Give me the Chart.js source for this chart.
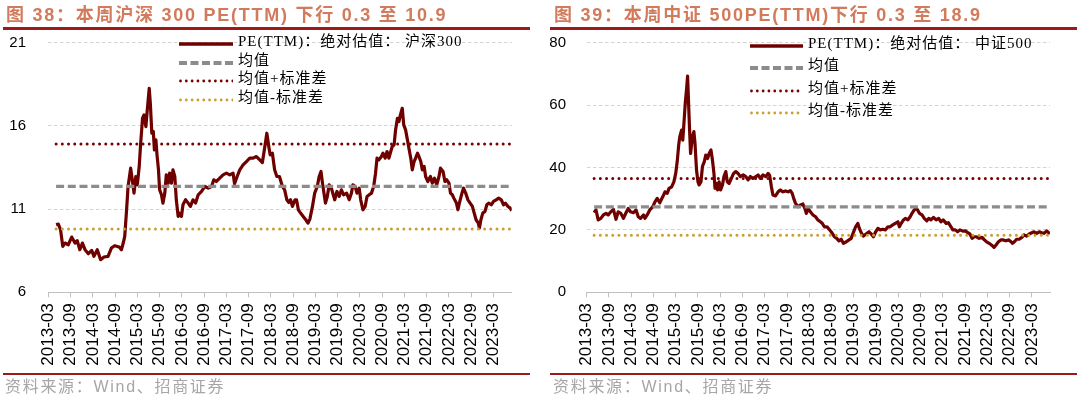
<!DOCTYPE html>
<html><head><meta charset="utf-8">
<script src="https://cdn.jsdelivr.net/npm/chart.js@4.4.0/dist/chart.umd.min.js"></script>
<style>
html,body{margin:0;padding:0;background:#fff;}
#wrap{position:relative;width:1080px;height:399px;overflow:hidden;background:#fff;}
.cv{position:absolute;top:0;}
.title{position:absolute;top:5px;font-weight:bold;font-size:18px;line-height:20px;letter-spacing:1.75px;font-family:"Liberation Sans","Noto Sans CJK SC",sans-serif;color:#D27B5C;white-space:nowrap;z-index:3;}
.rule{position:absolute;background:#9C1A1A;z-index:3;}
.src{position:absolute;top:377px;font-size:16px;line-height:20px;letter-spacing:1.7px;font-family:"Liberation Sans","Noto Sans CJK SC",sans-serif;color:#A6A6A6;white-space:nowrap;z-index:3;}
.lg{position:absolute;font-size:15px;line-height:18px;letter-spacing:1px;font-family:"Liberation Serif","Noto Sans CJK SC",serif;color:#000;white-space:nowrap;z-index:3;}
.lgs{position:absolute;z-index:3;}
</style></head>
<body>
<div id="wrap">
  <canvas id="c1" class="cv" width="540" height="399" style="left:0;width:540px;height:399px"></canvas>
  <canvas id="c2" class="cv" width="540" height="399" style="left:540px;width:540px;height:399px"></canvas>
  <div class="title" style="left:6px">图 38：本周沪深 300 PE(TTM) 下行 0.3 至 10.9</div>
  <div class="title" style="left:554px">图 39：本周中证 500PE(TTM)下行 0.3 至 18.9</div>
  <div class="rule" style="left:3px;width:527px;top:27px;height:3px"></div>
  <div class="rule" style="left:550px;width:527px;top:27px;height:3px"></div>
  <div class="rule" style="left:3px;width:527px;top:373px;height:2px"></div>
  <div class="rule" style="left:550px;width:527px;top:373px;height:2px"></div>
  <div class="src" style="left:5px">资料来源：Wind、招商证券</div>
  <div class="src" style="left:553px">资料来源：Wind、招商证券</div>
  <div id="legends"></div>
</div>
<script>
// ---- Data (x = months since 2013-03) ----
const tickLabels = ["2013-03","2013-09","2014-03","2014-09","2015-03","2015-09","2016-03","2016-09","2017-03","2017-09","2018-03","2018-09","2019-03","2019-09","2020-03","2020-09","2021-03","2021-09","2022-03","2022-09","2023-03"];
const tickMonths = [0,6,12,18,24,30,36,42,48,54,60,66,72,78,84,90,96,102,108,114,120];

const hs300Months = [2.1,2.7,3.3,3.9,4.5,5.4,6.3,7.2,7.8,8.5,9.2,9.9,10.8,11.7,12.3,13.2,14.1,15.0,16.1,17.0,17.9,19.1,19.7,20.2,20.6,21.1,21.5,22.2,22.7,23.1,23.6,24.0,24.5,24.9,25.4,25.8,26.3,26.6,27.2,27.5,27.9,28.3,28.6,29.0,29.3,29.7,30.0,30.5,30.9,31.4,31.8,32.3,32.7,33.2,33.6,34.1,34.5,35.0,35.4,35.9,36.3,37.0,37.7,38.3,39.0,39.7,40.4,41.3,42.2,43.1,44.0,44.6,45.3,46.2,47.1,48.0,48.9,49.8,50.2,50.9,51.6,52.5,53.4,54.3,55.2,56.1,57.0,57.7,58.3,58.9,59.5,59.8,60.4,61.0,61.6,62.3,63.1,63.7,64.3,64.8,65.3,65.8,66.5,66.9,67.4,68.0,68.7,69.4,70.0,70.5,71.2,71.8,72.5,73.0,73.5,73.9,74.3,74.7,75.2,75.7,76.3,76.8,77.2,77.8,78.4,79.0,79.6,80.4,81.1,81.7,82.1,82.7,83.2,83.8,84.2,84.8,85.4,85.9,86.5,87.1,87.7,88.2,88.6,89.1,89.8,90.2,90.8,91.3,91.8,92.3,92.7,93.2,93.6,94.1,94.5,94.9,95.4,95.8,96.3,96.8,97.2,97.7,98.1,98.6,99.0,99.5,99.9,100.4,100.8,101.3,101.7,102.3,103.0,103.5,104.1,104.7,105.3,105.7,106.4,106.9,107.4,108.0,108.4,108.9,109.3,110.0,110.4,110.8,111.5,111.9,112.5,113.1,113.7,114.3,114.8,115.3,115.9,116.2,116.6,117.1,117.7,118.2,118.7,119.4,120.0,120.7,121.4,122.1,122.7,123.2,123.9,124.5,124.9];
const hs300PE = [10.06,10.1,9.76,8.76,8.96,8.86,9.32,8.96,9.1,8.56,8.96,8.56,8.32,8.52,8.16,8.56,7.96,8.12,8.16,8.66,8.8,8.72,8.56,8.96,9.36,10.96,12.36,13.46,12.66,11.96,12.96,12.46,13.56,14.96,16.46,16.66,15.96,16.76,18.26,17.36,15.56,15.66,14.56,15.16,14.26,13.36,12.16,11.86,11.36,11.96,13.06,12.56,13.16,12.56,13.36,12.96,11.56,10.56,10.76,10.56,11.26,11.56,11.36,11.16,11.56,11.36,11.86,12.06,12.36,12.26,12.36,12.76,12.66,12.86,13.06,13.16,13.06,13.16,12.52,12.96,13.36,13.66,13.86,14.06,14.06,14.16,13.96,13.8,14.66,15.56,14.66,14.26,14.36,13.36,12.96,12.96,12.36,12.16,11.56,11.4,11.56,11.16,11.56,11.56,10.96,10.76,10.56,10.36,10.16,10.4,11.16,11.96,12.36,12.96,13.26,12.56,11.96,11.36,11.76,12.46,12.26,11.86,11.56,12.06,11.76,12.16,11.86,11.96,11.56,11.96,12.46,12.36,11.96,12.26,11.56,10.96,11.16,11.76,11.86,11.96,12.36,13.16,14.06,13.96,14.16,14.36,14.06,14.46,14.06,14.46,14.76,14.86,15.76,16.46,16.26,16.66,17.06,16.06,15.76,15.16,14.66,14.06,13.36,13.86,14.06,14.36,14.16,13.86,13.36,13.56,12.96,12.66,12.96,12.56,12.86,12.46,12.96,13.46,13.26,12.66,12.76,12.56,11.96,11.86,11.66,11.36,10.96,11.36,11.96,12.26,11.96,11.56,11.36,11.16,10.76,10.36,10.16,9.86,10.36,10.76,10.86,11.26,11.36,11.26,11.46,11.56,11.66,11.56,11.26,11.36,11.16,11.06,10.9];
const hs300Mean = 12.36, hs300Plus = 14.91, hs300Minus = 9.81;
const hs300YTicks = [6,11,16,21];

const zz500Months = [2.0,2.5,3.1,3.8,4.5,5.2,5.8,6.5,7.2,7.9,8.5,9.2,9.9,10.6,11.2,11.8,12.6,13.3,13.9,14.5,15.3,15.7,16.3,17.0,17.8,18.4,19.0,19.7,20.5,21.1,21.7,22.2,22.9,23.5,24.0,24.4,24.8,25.1,25.6,25.9,26.3,26.6,26.9,27.2,27.4,27.7,28.0,28.3,28.5,28.9,29.2,29.6,30.0,30.3,30.8,31.2,31.7,32.1,32.6,33.0,33.5,33.9,34.3,34.6,35.0,35.3,35.7,36.1,36.6,37.0,37.5,37.9,38.4,39.0,39.6,40.2,40.8,41.4,42.2,42.9,43.5,44.1,44.8,45.6,46.2,46.8,47.5,48.3,48.9,49.3,49.8,50.2,50.9,51.6,52.2,52.9,53.6,54.3,54.9,55.4,55.8,56.3,57.0,57.6,58.3,58.8,59.2,59.7,60.3,61.0,61.7,62.3,63.0,63.5,64.1,64.8,65.5,66.2,66.8,67.4,68.0,68.6,69.2,70.0,70.7,71.3,71.8,72.5,73.1,73.5,74.1,74.6,75.3,76.1,76.7,77.3,77.9,78.5,79.1,79.8,80.5,81.2,81.8,82.5,83.2,83.9,84.3,84.8,85.4,85.9,86.6,87.2,87.7,88.3,88.8,89.2,89.7,90.4,91.0,91.7,92.2,92.8,93.5,94.2,94.9,95.5,96.1,96.9,97.5,98.2,98.7,99.4,100.0,100.6,101.4,102.1,102.7,103.3,103.9,104.5,105.1,105.8,106.6,107.2,107.8,108.5,109.2,109.8,110.3,111.0,111.7,112.3,113.0,113.7,114.4,114.8,115.3,115.9,116.6,117.3,117.9,118.6,119.3,120.0,120.6,121.3,122.0,122.7,123.3,124.0,124.5,124.9];
const zz500PE = [25.5,26.4,23.2,23.7,24.8,25.3,24.8,25.8,26.6,23.4,25.8,25.3,23.7,25.5,26.9,25.8,25.5,26.4,24.2,23.7,24.8,23.7,24.8,26.4,27.4,29.0,30.1,28.7,30.6,32.2,31.7,33.3,33.8,35.4,38.1,41.9,47.2,49.9,52.0,48.8,55.7,61.1,64.8,69.3,62.7,53.1,44.5,47.7,49.9,51.5,47.7,39.2,35.4,34.4,35.4,40.3,41.9,44.0,42.9,44.5,45.6,42.4,38.1,33.3,34.9,32.8,35.4,32.8,34.4,37.1,38.7,35.4,34.9,36.5,38.1,38.7,38.1,37.1,37.6,37.1,36.0,37.1,36.5,37.1,37.6,36.5,37.6,37.1,38.1,37.6,33.8,31.2,30.9,32.2,32.8,32.2,32.5,32.2,32.6,31.7,30.1,28.5,27.4,28.0,28.3,26.9,25.3,26.9,25.8,24.8,24.2,23.2,22.6,22.1,21.0,21.0,20.0,18.9,17.8,17.3,16.5,17.0,15.7,16.2,16.8,17.3,18.9,21.0,22.1,20.5,18.9,18.0,18.7,19.4,18.7,17.8,19.4,20.5,20.0,20.2,20.0,21.0,21.0,21.6,22.1,22.6,21.0,22.1,23.2,23.7,23.2,24.2,25.3,26.4,26.9,26.4,25.3,24.8,23.7,22.9,23.7,23.2,24.0,23.2,23.7,22.6,23.2,22.1,22.3,21.0,20.0,20.0,19.4,20.0,19.6,19.7,19.1,18.7,17.3,17.8,17.8,17.3,17.6,16.8,16.2,15.7,15.1,14.4,15.1,16.2,16.8,16.8,16.5,16.8,16.2,15.7,16.2,17.0,17.0,17.6,18.4,18.0,18.7,19.1,19.4,18.9,19.4,19.1,18.9,19.7,19.1,18.9];
const zz500Mean = 27.4, zz500Plus = 36.5, zz500Minus = 18.3;
const zz500YTicks = [0,20,40,60,80];

const legendLabelsHS = ["PE(TTM)：绝对估值： 沪深300","均值","均值+标准差","均值-标准差"];
const legendLabelsZZ = ["PE(TTM)：绝对估值： 中证500","均值","均值+标准差","均值-标准差"];

// ---- Styles ----
const COL_PE = '#6E0000', COL_MEAN = '#8C8C8C', COL_PLUS = '#7A0000', COL_MINUS = '#C9A030';
const X_MAX = 124.9;

function makeChart(id, months, pe, mean, plus, minus, yMin, yMax, yTicks, yWidth, yPad, padRight) {
  const x0 = months[0], x1 = months[months.length - 1];
  const flat = v => [{x: x0, y: v}, {x: x1, y: v}];
  return new Chart(document.getElementById(id), {
    type: 'line',
    data: {
      datasets: [
        {data: months.map((m, i) => ({x: m, y: pe[i]})), borderColor: COL_PE, borderWidth: 3.2, pointRadius: 0, tension: 0, order: 2, borderJoinStyle: 'round'},
        {data: flat(mean), borderColor: COL_MEAN, borderWidth: 3.3, borderDash: [8, 3.7], pointRadius: 0, order: 1},
        {data: flat(plus), borderColor: COL_PLUS, borderWidth: 3, borderDash: [0.01, 6.2], borderCapStyle: 'round', pointRadius: 0, order: 1},
        {data: flat(minus), borderColor: COL_MINUS, borderWidth: 3, borderDash: [0.01, 6.2], borderCapStyle: 'round', pointRadius: 0, order: 1}
      ]
    },
    options: {
      responsive: false, animation: false, devicePixelRatio: 1,
      layout: {padding: {left: 0, right: padRight, top: 42.7, bottom: 0}},
      plugins: {legend: {display: false}, tooltip: {enabled: false}},
      scales: {
        x: {
          type: 'linear', min: 0, max: X_MAX,
          afterFit: s => { s.height = 399 - 292.3; },
          afterBuildTicks: s => { s.ticks = tickMonths.map(v => ({value: v})); },
          ticks: {
            autoSkip: false, minRotation: 90, maxRotation: 90, includeBounds: false,
            callback: (v, i) => tickLabels[i],
            font: {family: 'Liberation Sans', size: 17}, color: '#000', padding: 6
          },
          grid: {drawOnChartArea: false, drawTicks: true, tickLength: 5, color: '#BFBFBF', lineWidth: 1},
          border: {display: true, color: '#BFBFBF', width: 1}
        },
        y: {
          min: yMin, max: yMax,
          afterFit: s => { s.width = yWidth; },
          afterBuildTicks: s => { s.ticks = yTicks.map(v => ({value: v})); },
          ticks: {font: {family: 'Liberation Sans', size: 15}, color: '#000', padding: yPad},
          grid: {drawTicks: false, lineWidth: 1, color: c => (c.tick && c.tick.value === yMin) ? 'rgba(0,0,0,0)' : '#D4D4D4'},
          border: {display: false, dash: [3.5, 2.5]}
        }
      }
    }
  });
}

makeChart('c1', hs300Months, hs300PE, hs300Mean, hs300Plus, hs300Minus, 6, 21, hs300YTicks, 48.3, 22.3, 540 - 511.7);
makeChart('c2', zz500Months, zz500PE, zz500Mean, zz500Plus, zz500Minus, 0, 80, zz500YTicks, 46.7, 20.7, 540 - 1050 + 540);

// ---- Legends (HTML) ----
const samples = [
  '<line x1="0" y1="5" x2="W" y2="5" stroke="' + COL_PE + '" stroke-width="3.6"/>',
  '<line x1="0" y1="5" x2="W" y2="5" stroke="' + COL_MEAN + '" stroke-width="4" stroke-dasharray="8 3.5"/>',
  '<line x1="1.5" y1="5" x2="W" y2="5" stroke="' + COL_PLUS + '" stroke-width="2.8" stroke-dasharray="0.01 5.8" stroke-linecap="round"/>',
  '<line x1="1.5" y1="5" x2="W" y2="5" stroke="' + COL_MINUS + '" stroke-width="2.8" stroke-dasharray="0.01 5.8" stroke-linecap="round"/>'
];
function buildLegend(labels, sx, sw, tx, rowsY) {
  const host = document.getElementById('legends');
  labels.forEach((t, i) => {
    const s = document.createElement('div');
    s.className = 'lgs';
    s.style.left = sx + 'px'; s.style.top = (rowsY[i] - 5) + 'px';
    s.innerHTML = '<svg width="' + sw + '" height="10" xmlns="http://www.w3.org/2000/svg">' + samples[i].replace('W', sw) + '</svg>';
    host.appendChild(s);
    const d = document.createElement('div');
    d.className = 'lg';
    d.style.left = tx + 'px'; d.style.top = (rowsY[i] - 8) + 'px';
    d.textContent = t;
    host.appendChild(d);
  });
}
buildLegend(legendLabelsHS, 179, 54, 238, [40, 58.5, 77, 95.5]);
buildLegend(legendLabelsZZ, 750, 53, 808, [41.7, 64.2, 86.7, 109.2]);
</script>
</body></html>
